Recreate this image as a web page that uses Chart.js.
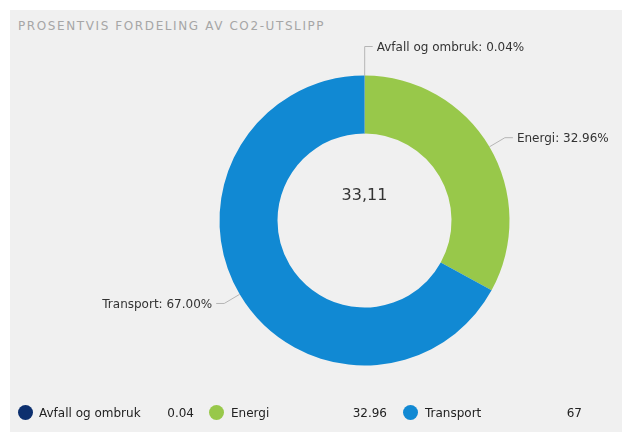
<!DOCTYPE html>
<html>
<head>
<meta charset="utf-8">
<script src="https://cdn.jsdelivr.net/npm/chart.js@4.4.1/dist/chart.umd.min.js"></script>
<style>
  body { margin: 0; background: #fff; font-family: "DejaVu Sans", sans-serif; }
  #panel { position: absolute; left: 10px; top: 10px; width: 612px; height: 422px; background: #f0f0f0; }
  #title { position: absolute; left: 18px; top: 19px; font-size: 12px; letter-spacing: 1.6px; color: #a6a6a6; }
  #wrap { position: absolute; left: 0; top: 0; width: 622px; height: 432px; }
  #legend { position: absolute; left: 0; top: 404px; width: 622px; height: 20px; font-size: 12px; color: #222; }
  .item { position: absolute; top: 0; height: 18px; line-height: 18px; white-space: nowrap; }
  .val { text-align: right; }
  .dot { position: absolute; top: 1px; width: 15px; height: 15px; border-radius: 50%; }
</style>
</head>
<body>
<div id="panel"></div>
<div id="title">PROSENTVIS FORDELING AV CO2-UTSLIPP</div>
<div id="wrap"><canvas id="co2-chart"></canvas></div>
<div id="legend"></div>
<script>
// Data
const categories = ['Avfall og ombruk', 'Energi', 'Transport'];
const shares = [0.04, 32.96, 67];
const colors = ['#0c2f6e', '#98c84a', '#1189d3'];
const centerText = '33,11';

// Etiketter med streker utenfor ringen
const labelPlugin = {
  id: 'outerLabels',
  afterDatasetsDraw(chart) {
    const ctx = chart.ctx;
    const meta = chart.getDatasetMeta(0);
    ctx.save();
    ctx.font = '12px "DejaVu Sans"';
    ctx.fillStyle = '#333';
    ctx.strokeStyle = '#b5b5b5';
    ctx.lineWidth = 1;
    ctx.textBaseline = 'middle';
    meta.data.forEach(function(arc, i) {
      const p = arc.getProps(['x', 'y', 'startAngle', 'endAngle', 'outerRadius'], true);
      const mid = (p.startAngle + p.endAngle) / 2;
      const cos = Math.cos(mid), sin = Math.sin(mid);
      const x0 = p.x + cos * p.outerRadius;
      const y0 = p.y + sin * p.outerRadius;
      const ext = Math.abs(cos) < 0.05 ? 29 : 18;
      const x1 = p.x + cos * (p.outerRadius + ext);
      const y1 = p.y + sin * (p.outerRadius + ext);
      const right = cos >= -0.05;
      const x2 = x1 + (right ? 8 : -8);
      ctx.beginPath();
      ctx.moveTo(x0, y0);
      ctx.lineTo(x1, y1);
      ctx.lineTo(x2, y1);
      ctx.stroke();
      const txt = categories[i] + ': ' + shares[i].toFixed(2) + '%';
      ctx.textAlign = right ? 'left' : 'right';
      ctx.fillText(txt, x2 + (right ? 4 : -4), y1 + 1);
    });
    // tekst i midten
    const a = meta.data[0];
    ctx.font = '16px "DejaVu Sans"';
    ctx.fillStyle = '#333';
    ctx.textAlign = 'center';
    ctx.fillText(centerText, a.x, a.y - 25);
    ctx.restore();
  }
};

new Chart(document.getElementById('co2-chart'), {
  type: 'doughnut',
  data: {
    labels: categories,
    datasets: [{
      data: shares,
      backgroundColor: colors,
      borderColor: '#c4c4c4',
      borderWidth: [1, 0, 0]
    }]
  },
  options: {
    responsive: true,
    maintainAspectRatio: false,
    animation: false,
    cutout: '60%',
    layout: { padding: { left: 219, right: 112, top: 75, bottom: 66 } },
    plugins: {
      legend: { display: false },
      tooltip: { enabled: false }
    }
  },
  plugins: [labelPlugin]
});

// Forklaring nederst
const legendPos = [
  { dot: 18, text: 39, valRight: 194 },
  { dot: 209, text: 231, valRight: 387 },
  { dot: 403, text: 425, valRight: 582 }
];
const legend = document.getElementById('legend');
categories.forEach(function(c, i) {
  const p = legendPos[i];
  legend.insertAdjacentHTML('beforeend',
    '<span class="dot" style="left:' + p.dot + 'px;background:' + colors[i] + '"></span>' +
    '<span class="item" style="left:' + p.text + 'px">' + c + '</span>' +
    '<span class="item val" style="right:' + (622 - p.valRight) + 'px">' + shares[i] + '</span>');
});
</script>
</body>
</html>
